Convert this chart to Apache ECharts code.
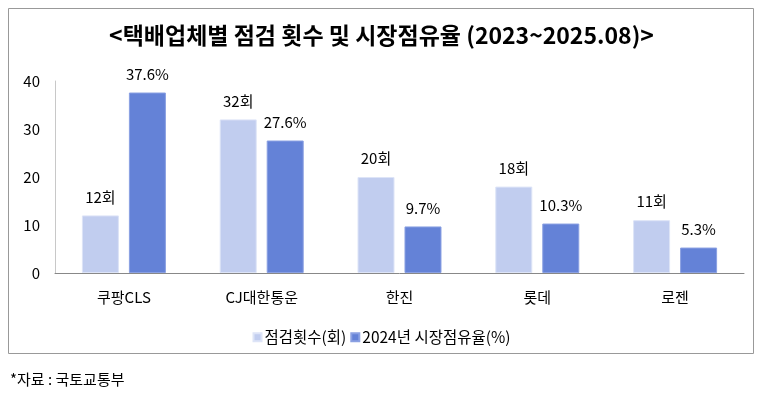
<html>
<head>
    <meta charset="utf-8">
    <title>택배업체별 점검 횟수</title>
    <script src="https://cdn.jsdelivr.net/npm/echarts@6/dist/echarts.min.js"></script>
</head>
<body style="margin:0;background:#fff;">
<div id="main" style="width:763px;height:397px;"></div>
<script type="text/javascript">
var categories = ['쿠팡CLS', 'CJ대한통운', '한진', '롯데', '로젠'];
var inspectCount = [12, 32, 20, 18, 11];
var marketShare = [37.6, 27.6, 9.7, 10.3, 5.3];
var yTicks = [0, 10, 20, 30, 40];

var font = '"Noto Sans CJK KR", "Noto Sans", sans-serif';
var myChart = echarts.init(document.getElementById('main'));

var option = {
    textStyle: { fontFamily: font },
    title: {
        text: '<택배업체별 점검 횟수 및 시장점유율 (2023~2025.08)>',
        left: 'center',
        top: 19,
        textStyle: { fontFamily: font, fontSize: 23, fontWeight: 'bold', color: '#000' }
    },
    legend: {
        bottom: 47,
        left: 'center',
        itemWidth: 8,
        itemHeight: 8,
        itemGap: 4,
        icon: 'rect',
        textStyle: { fontFamily: font, fontSize: 15.5, color: '#000', padding: [0, 0, 0, -2] },
        data: ['점검횟수(회)', '2024년 시장점유율(%)']
    },
    grid: { left: 55, right: 19, top: 81, bottom: 124 },
    xAxis: {
        type: 'category',
        data: categories,
        axisLine: { lineStyle: { color: '#888' } },
        axisTick: { show: false },
        axisLabel: { fontFamily: font, fontSize: 15, color: '#000', margin: 17 }
    },
    yAxis: {
        type: 'value',
        min: yTicks[0],
        max: yTicks[yTicks.length - 1],
        interval: 10,
        axisLine: { show: true, lineStyle: { color: '#c8c8c8' } },
        axisTick: { show: false },
        splitLine: { show: false },
        axisLabel: { fontFamily: font, fontSize: 15, color: '#000', margin: 15 }
    },
    series: [
        {
            name: '점검횟수(회)',
            type: 'bar',
            data: inspectCount,
            barWidth: 37,
            barGap: '27%',
            itemStyle: { color: '#c1cdef', borderColor: '#dde4f7', borderWidth: 1 },
            label: { show: true, position: 'top', distance: 11, formatter: '{c}회',
                     fontFamily: font, fontSize: 15, color: '#000' }
        },
        {
            name: '2024년 시장점유율(%)',
            type: 'bar',
            data: marketShare,
            barWidth: 37,
            itemStyle: { color: '#6482d7', borderColor: '#8aa0e2', borderWidth: 1 },
            label: { show: true, position: 'top', distance: 11, formatter: '{c}%',
                     fontFamily: font, fontSize: 15, color: '#000' }
        }
    ],
    graphic: [
        {
            type: 'rect',
            shape: { x: 8.5, y: 8.5, width: 745, height: 345 },
            style: { fill: null, stroke: '#999', lineWidth: 1 },
            silent: true
        },
        {
            type: 'text',
            left: 10,
            top: 372,
            style: { text: '*자료 : 국토교통부', font: '15px ' + font, fill: '#000' }
        }
    ]
};
myChart.setOption(option);
</script>
</body>
</html>
